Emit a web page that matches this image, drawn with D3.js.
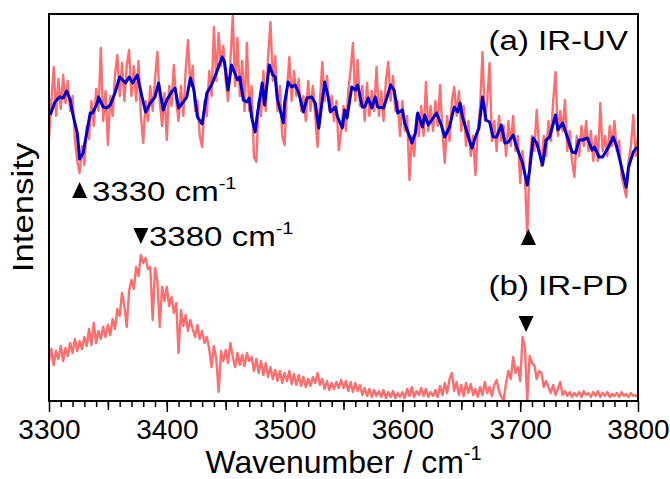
<!DOCTYPE html>
<html>
<head>
<meta charset="utf-8">
<script src="https://cdn.jsdelivr.net/npm/d3@7"></script>
<style>
  body { margin: 0; background: #fff; }
  svg { display: block; font-family: "Liberation Sans", Arial, sans-serif; }
</style>
</head>
<body>
<svg id="chart" width="670" height="479"></svg>
<script>
// wavenumber grid of the raw traces (cm-1)
const wnStart = 3300;
const wnStep = 2;

// (a) IR-UV raw trace, arbitrary intensity
const irUvRaw = [
  262, 300, 334, 285, 322, 292, 326, 298, 320, 290,
  305, 262, 240, 228, 255, 236, 275, 262, 300, 275,
  312, 290, 353, 280, 310, 256, 305, 285, 325, 346,
  305, 338, 300, 335, 351, 305, 335, 300, 340, 285,
  258, 300, 280, 315, 290, 322, 349, 300, 275, 308,
  261, 315, 295, 336, 300, 280, 315, 285, 330, 361,
  315, 335, 290, 300, 265, 254, 300, 285, 330, 305,
  374, 320, 368, 335, 355, 320, 300, 340, 386, 315,
  363, 305, 340, 290, 358, 290, 315, 244, 239, 300,
  285, 330, 290, 345, 379, 320, 345, 290, 315, 265,
  256, 310, 344, 300, 330, 305, 322, 290, 305, 280,
  320, 290, 315, 285, 254, 300, 339, 300, 325, 290,
  305, 280, 300, 251, 270, 295, 270, 310, 330, 358,
  300, 341, 295, 315, 280, 318, 285, 310, 290, 334,
  285, 310, 280, 320, 339, 300, 325, 290, 300, 265,
  300, 270, 285, 221, 265, 245, 285, 265, 295, 265,
  319, 270, 295, 270, 300, 275, 316, 270, 238, 285,
  260, 300, 314, 285, 310, 270, 295, 255, 280, 245,
  265, 226, 270, 295, 349, 280, 300, 338, 260, 280,
  250, 285, 260, 275, 245, 280, 255, 285, 250, 265,
  218, 250, 225, 166, 240, 265, 250, 291, 255, 235,
  265, 245, 280, 260, 300, 329, 265, 290, 270, 301,
  250, 270, 240, 224, 265, 245, 275, 255, 280, 250,
  270, 240, 265, 240, 298, 250, 265, 245, 275, 255,
  280, 250, 260, 225, 215, 204, 240, 255, 286, 245,
  265
];

// (a) IR-UV smoothed trace
const irUvSmoothWn = [
  3301, 3305, 3309, 3312, 3315, 3318, 3320, 3324, 3326, 3329,
  3332, 3335, 3337, 3341, 3342, 3346, 3349, 3352, 3356, 3360,
  3365, 3368, 3371, 3375, 3379, 3382, 3386, 3390, 3393, 3397,
  3400, 3404, 3407, 3410, 3414, 3417, 3420, 3423, 3426, 3430,
  3434, 3438, 3443, 3447, 3449, 3452, 3455, 3460, 3462, 3465,
  3468, 3470, 3472, 3475, 3477, 3481, 3483, 3487, 3490, 3492,
  3494, 3499, 3500, 3503, 3506, 3509, 3512, 3516, 3519, 3523,
  3526, 3529, 3532, 3534, 3537, 3539, 3543, 3545, 3549, 3551,
  3553, 3557, 3560, 3562, 3566, 3568, 3571, 3574, 3577, 3579,
  3584, 3587, 3590, 3593, 3596, 3600, 3602, 3605, 3608, 3611,
  3613, 3617, 3619, 3622, 3626, 3629, 3633, 3636, 3640, 3644,
  3647, 3649, 3651, 3655, 3659, 3662, 3665, 3668, 3671, 3674,
  3677, 3680, 3684, 3687, 3690, 3694, 3697, 3702, 3706, 3708,
  3711, 3714, 3719, 3722, 3725, 3730, 3732, 3736, 3740, 3744,
  3747, 3750, 3753, 3757, 3761, 3763, 3767, 3770, 3775, 3779,
  3782, 3786, 3790, 3792, 3796, 3799
];
const irUvSmooth = [
  286, 299, 304, 303, 310, 301, 288, 268, 242, 248,
  268, 288, 288, 298, 304, 294, 293, 296, 308, 324,
  318, 324, 318, 326, 304, 289, 298, 304, 318, 291,
  301, 309, 313, 293, 299, 304, 323, 311, 284, 277,
  308, 316, 331, 344, 339, 311, 336, 321, 324, 301,
  299, 303, 284, 269, 288, 318, 296, 336, 326, 324,
  301, 278, 298, 319, 314, 316, 308, 289, 303, 304,
  298, 273, 301, 319, 304, 289, 294, 284, 273, 291,
  283, 314, 311, 316, 294, 294, 303, 293, 304, 294,
  293, 304, 316, 311, 288, 291, 278, 268, 258, 268,
  288, 274, 286, 276, 283, 288, 276, 264, 274, 294,
  289, 298, 284, 268, 253, 264, 273, 304, 281, 279,
  264, 264, 276, 258, 259, 266, 254, 238, 216, 231,
  263, 258, 236, 261, 264, 286, 271, 278, 264, 249,
  248, 261, 261, 263, 251, 254, 244, 244, 254, 264,
  254, 234, 214, 234, 249, 254
];

// (b) IR-PD raw trace
const irPd = [
  40, 52, 36, 50, 42, 55, 40, 53, 45, 58,
  48, 62, 50, 60, 52, 64, 55, 72, 56, 78,
  58, 70, 62, 74, 64, 76, 66, 82, 72, 92,
  85, 108, 95, 74, 110, 121, 112, 134, 125, 146,
  138, 143, 132, 134, 81, 133, 120, 74, 114, 100,
  114, 95, 104, 88, 98, 48, 91, 75, 86, 70,
  81, 72, 64, 76, 62, 70, 58, 64, 52, 34,
  55, 42, 9, 50, 40, 51, 38, 58, 44, 34,
  48, 36, 46, 35, 48, 40, 44, 30, 42, 28,
  40, 26, 38, 24, 34, 22, 31, 20, 30, 18,
  28, 20, 30, 17, 27, 16, 26, 15, 24, 14,
  22, 15, 24, 18, 28, 16, 22, 12, 20, 11,
  18, 12, 19, 13, 21, 13, 20, 10, 19, 9,
  18, 10, 16, 6, 13, 5, 12, 4, 11, 5,
  10, 4, 11, 3, 9, 4, 10, 3, 8, 4,
  9, 3, 12, 5, 14, 4, 10, 6, 13, 5,
  12, 4, 9, 5, 11, 4, 15, 6, 18, 8,
  22, 28, 10, 19, 6, 16, 5, 18, 8, 17,
  6, 12, 4, 14, 6, 19, 8, 14, 5, 16,
  21, 10, 4, 1, 18, 30, 22, 44, 28, 34,
  20, 64, 54, 1, 45, 38, 36, 22, 30, 28,
  14, 20, 14, 8, 16, 6, 12, 19, 6, 10,
  5, 9, 4, 8, 5, 9, 4, 10, 6, 8,
  4, 9, 5, 10, 4, 8, 5, 9, 4, 7,
  5, 8, 4, 9, 5, 7, 4, 8, 5, 6,
  4
];

const xTicks = [3300, 3400, 3500, 3600, 3700, 3800];

const upMarks = [3326, 3707];
const downMarks = [3378, 3705];

const svg = d3.select("#chart");
const margin = { top: 14, right: 32, bottom: 78, left: 49 };
const width = +svg.attr("width") - margin.left - margin.right;
const height = +svg.attr("height") - margin.top - margin.bottom;

const x = d3.scaleLinear().domain([3300, 3800]).range([margin.left, margin.left + width]);
const y = d3.scaleLinear().domain([0, 387]).range([margin.top + height, margin.top]);

const red = "#ff6e6e";
const blue = "#0000c8";

const line = d3.line()
  .x(d => x(d[0]))
  .y(d => y(d[1]));

svg.append("clipPath").attr("id", "plot-clip")
  .append("rect")
  .attr("x", margin.left).attr("y", margin.top - 2)
  .attr("width", width).attr("height", height + 2);

const plot = svg.append("g").attr("clip-path", "url(#plot-clip)");

plot.append("path")
  .datum(irPd.map((v, i) => [wnStart + i * wnStep, v]))
  .attr("fill", "none")
  .attr("stroke", red)
  .attr("stroke-width", 2.4)
  .attr("stroke-linejoin", "round")
  .attr("d", line);

plot.append("path")
  .datum(irUvRaw.map((v, i) => [wnStart + i * wnStep, v]))
  .attr("fill", "none")
  .attr("stroke", red)
  .attr("stroke-width", 2.4)
  .attr("stroke-linejoin", "round")
  .attr("d", line);

plot.append("path")
  .datum(irUvSmooth.map((v, i) => [irUvSmoothWn[i], v]))
  .attr("fill", "none")
  .attr("stroke", blue)
  .attr("stroke-width", 3)
  .attr("stroke-linejoin", "round")
  .attr("d", line);

// axes: minor every 10, medium every 50, major every 100
const axisY = margin.top + height;
svg.append("g")
  .attr("transform", `translate(0,${axisY})`)
  .call(d3.axisBottom(x).tickValues(d3.range(3310, 3800, 10)).tickSize(6).tickFormat(""))
  .call(g => g.select(".domain").remove());
svg.append("g")
  .attr("transform", `translate(0,${axisY})`)
  .call(d3.axisBottom(x).tickValues([3350, 3450, 3550, 3650, 3750]).tickSize(9).tickFormat(""))
  .call(g => g.select(".domain").remove());
const major = svg.append("g")
  .attr("transform", `translate(0,${axisY})`)
  .call(d3.axisBottom(x).tickValues(xTicks).tickSize(11).tickPadding(7).tickFormat(d3.format("d")))
  .call(g => g.select(".domain").remove());
major.selectAll("text")
  .attr("font-size", 28)
  .attr("fill", "#000")
  .attr("font-family", "Liberation Sans, Arial, sans-serif");
svg.selectAll(".tick line").attr("stroke", "#000").attr("stroke-width", 1.5);

svg.append("rect")
  .attr("x", margin.left).attr("y", margin.top)
  .attr("width", width).attr("height", height)
  .attr("fill", "none")
  .attr("stroke", "#000")
  .attr("stroke-width", 2);

// axis titles
const title = svg.append("text")
  .attr("x", margin.left + width / 2)
  .attr("y", 473)
  .attr("text-anchor", "middle")
  .attr("font-size", 32);
title.append("tspan").text("Wavenumber / cm");
title.append("tspan").attr("font-size", 20).attr("dy", -13).text("-1");

svg.append("text")
  .attr("transform", `translate(33,${margin.top + height / 2}) rotate(-90) scale(1.16,1)`)
  .attr("text-anchor", "middle")
  .attr("font-size", 30)
  .text("Intensity");

// markers
svg.selectAll(".up")
  .data(upMarks)
  .join("path")
  .attr("class", "up")
  .attr("d", "M0,-8L7.5,8L-7.5,8Z")
  .attr("transform", (d, i) => `translate(${x(d)},${[190, 237][i]})`);
svg.selectAll(".down")
  .data(downMarks)
  .join("path")
  .attr("class", "down")
  .attr("d", "M0,8L7.5,-8L-7.5,-8Z")
  .attr("transform", (d, i) => `translate(${x(d)},${[236, 324][i]})`);

function label(px, py, main, sup, anchor) {
  const t = svg.append("text")
    .attr("transform", `translate(${px},${py}) scale(1.18,1)`)
    .attr("text-anchor", anchor)
    .attr("font-size", 28);
  t.append("tspan").text(main);
  if (sup) t.append("tspan").attr("font-size", 17).attr("dy", -12).text(sup);
}

label(92, 201, "3330 cm", "-1", "start");
label(149, 246, "3380 cm", "-1", "start");
label(628, 50, "(a) IR-UV", null, "end");
label(628, 295, "(b) IR-PD", null, "end");
</script>
</body>
</html>
